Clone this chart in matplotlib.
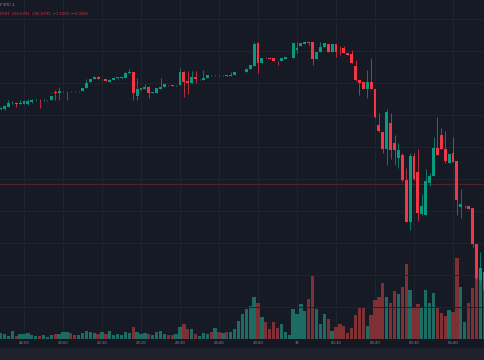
import matplotlib
matplotlib.use("Agg")
import matplotlib.pyplot as plt
from matplotlib.patches import Rectangle
import numpy as np

# 1-minute candles, 22:44 -> 00:48
opens = [66.39, 66.39, 66.51, 66.76, 66.76, 66.73, 66.70, 66.70, 66.83, 66.95,
         66.95, 66.92, 66.92, 66.95, 67.45, 67.39, 67.51, 67.51, 67.51, 67.51,
         67.49, 67.51, 67.70, 68.08, 68.26, 68.39, 68.26, 68.26, 68.08, 68.23,
         68.33, 68.33, 68.33, 68.64, 68.70, 67.20, 67.58, 67.64, 67.76, 67.39,
         67.39, 67.64, 67.76, 67.89, 67.86, 67.86, 67.89, 68.70, 68.14, 68.01,
         68.39, 68.26, 68.20, 68.33, 68.51, 68.49, 68.51, 68.49, 68.51, 68.48,
         68.51, 68.70, 68.67, 68.70, 68.89, 69.08, 70.51, 69.26, 69.58, 69.58,
         69.58, 69.39, 69.39, 69.51, 69.63, 69.58, 70.08, 70.33, 70.45, 70.58,
         70.58, 69.51, 69.95, 70.26, 70.45, 69.95, 70.45, 70.20, 70.20, 69.89,
         69.83, 69.08, 68.20, 68.08, 67.64, 68.08, 67.64, 65.39, 64.95, 63.89,
         65.51, 64.26, 63.33, 63.51, 61.95, 59.33, 63.45, 62.45, 59.83, 59.76,
         61.76, 62.20, 63.95, 64.76, 63.89, 63.01, 63.64, 63.14, 60.26, 60.26,
         60.33, 60.20, 57.95, 55.70, 56.20]
highs = [66.51, 66.64, 66.95, 66.89, 66.83, 66.95, 66.95, 67.01, 67.01, 67.01,
         67.01, 67.01, 66.98, 67.23, 67.58, 67.76, 67.54, 67.54, 67.54, 67.54,
         67.54, 67.70, 68.26, 68.29, 68.42, 68.45, 68.29, 68.29, 68.26, 68.36,
         68.36, 68.36, 68.67, 68.89, 68.70, 68.33, 67.70, 67.95, 67.83, 67.45,
         67.73, 68.33, 67.95, 67.89, 67.89, 67.89, 68.95, 68.76, 68.76, 68.76,
         68.76, 68.29, 68.83, 68.51, 68.53, 68.53, 68.53, 68.53, 68.53, 68.70,
         68.70, 68.73, 68.73, 68.89, 69.14, 70.58, 70.58, 69.58, 69.61, 69.61,
         69.58, 69.39, 69.58, 69.64, 69.66, 70.51, 70.58, 70.51, 70.61, 70.58,
         70.58, 69.95, 70.58, 70.54, 70.45, 70.45, 70.45, 70.33, 70.33, 69.89,
         70.08, 69.45, 68.20, 68.08, 68.83, 69.58, 67.64, 66.14, 64.95, 66.39,
         66.14, 64.76, 64.26, 63.64, 62.70, 63.64, 63.64, 63.89, 61.08, 62.64,
         62.39, 64.64, 65.89, 65.20, 65.01, 63.58, 64.64, 63.14, 61.39, 60.39,
         60.33, 60.20, 57.95, 57.45, 56.33]
lows = [66.33, 66.33, 66.51, 66.70, 66.51, 66.70, 66.70, 66.64, 66.76, 66.89,
        66.45, 66.89, 66.89, 66.95, 66.95, 66.95, 67.48, 66.95, 67.48, 67.48,
        67.48, 67.51, 67.70, 68.08, 68.26, 68.26, 68.23, 68.11, 68.08, 68.23,
        68.29, 68.29, 68.33, 68.64, 66.95, 66.95, 67.58, 67.64, 67.08, 67.39,
        67.39, 67.64, 67.76, 67.83, 67.83, 67.83, 67.89, 67.14, 67.33, 68.01,
        68.01, 68.23, 68.20, 68.33, 68.47, 68.47, 68.47, 68.47, 68.46, 68.46,
        68.51, 68.68, 68.67, 68.70, 68.89, 69.08, 68.64, 69.26, 69.56, 69.51,
        69.39, 69.14, 69.39, 69.51, 69.62, 69.58, 69.89, 70.33, 70.45, 70.39,
        69.14, 69.51, 69.95, 70.26, 69.95, 69.95, 69.64, 69.76, 69.89, 69.76,
        69.26, 68.14, 67.26, 67.64, 67.08, 67.64, 65.83, 64.95, 63.64, 62.89,
        63.26, 62.89, 62.70, 61.83, 59.33, 58.83, 61.95, 59.39, 59.76, 59.76,
        61.58, 62.20, 63.51, 63.89, 63.01, 63.01, 63.08, 59.76, 59.58, 60.20,
        60.14, 57.76, 55.70, 55.58, 54.95]
closes = [66.45, 66.58, 66.76, 66.76, 66.73, 66.76, 66.89, 66.89, 66.95, 66.95,
          66.92, 66.95, 66.95, 67.20, 67.36, 67.51, 67.51, 67.51, 67.49, 67.49,
          67.51, 67.70, 68.01, 68.26, 68.39, 68.26, 68.26, 68.14, 68.23, 68.33,
          68.33, 68.33, 68.64, 68.70, 67.39, 67.64, 67.70, 67.76, 67.39, 67.45,
          67.70, 67.76, 67.95, 67.86, 67.83, 67.89, 68.70, 68.08, 68.01, 68.39,
          68.26, 68.26, 68.33, 68.51, 68.49, 68.51, 68.49, 68.51, 68.48, 68.51,
          68.70, 68.71, 68.70, 68.89, 69.14, 70.45, 69.26, 69.58, 69.56, 69.51,
          69.39, 69.36, 69.58, 69.64, 69.65, 70.51, 70.20, 70.51, 70.58, 70.51,
          69.51, 69.95, 70.26, 70.51, 69.95, 70.45, 69.95, 70.17, 69.89, 69.76,
          69.26, 68.20, 68.01, 67.64, 68.08, 67.64, 65.89, 65.01, 63.89, 66.20,
          63.83, 63.83, 63.83, 61.95, 59.33, 63.45, 62.01, 59.89, 60.33, 61.89,
          62.20, 63.95, 63.51, 63.89, 63.14, 63.58, 63.08, 60.70, 60.45, 60.29,
          60.14, 57.95, 55.83, 56.45, 55.08]
volumes = [60, 50, 30, 80, 30, 50, 50, 60, 40, 30, 30, 40, 20, 40, 50, 50, 70, 70, 60, 40,
           40, 60, 80, 70, 60, 50, 70, 50, 80, 40, 50, 40, 70, 60, 120, 70, 50, 60, 50, 40,
           70, 80, 50, 40, 40, 50, 120, 150, 100, 100, 50, 30, 60, 50, 70, 110, 70, 60, 70, 70,
           100, 180, 250, 300, 330, 420, 360, 220, 170, 100, 170, 110, 150, 70, 40, 300, 250, 350, 280, 400,
           630, 300, 150, 250, 200, 80, 120, 150, 130, 60, 110, 240, 310, 310, 130, 240, 390, 420, 560, 420,
           360, 480, 450, 520, 750, 490, 320, 350, 320, 490, 360, 460, 320, 260, 230, 290, 270, 810, 520, 170,
           360, 510, 610, 690, 660]

tick_pos = [6, 16, 26, 36, 46, 56, 66, 76, 86, 96, 106, 116]
tick_labels = ["22:50", "23:00", "23:10", "23:20", "23:30", "23:40", "23:50",
               "30", "00:10", "00:20", "00:30", "00:40"]
price_line = 61.7

BG = "#161a25"
UP, DOWN = "#089981", "#f23645"
UP_VOL, DOWN_VOL = "#1d6c64", "#7e3035"

o = np.array(opens); h = np.array(highs); l = np.array(lows); c = np.array(closes)
v = np.array(volumes)
x = np.arange(len(o))
up = c >= o
col = np.where(up, UP, DOWN)
vcol = np.where(up, UP_VOL, DOWN_VOL)

fig = plt.figure(figsize=(4.85, 3.6), dpi=100, facecolor="#141822")
fig.patches.append(Rectangle((0, 0), 1, 12 / 360, transform=fig.transFigure,
                             facecolor="#1e222d", edgecolor="none", zorder=0))
rect = [0, 21 / 360, 1, 339 / 360]

# volume underneath
axv = fig.add_axes(rect, zorder=1)
axv.set_facecolor(BG)
axv.bar(x, v, width=0.86, color=vcol, linewidth=0)
axv.set_ylim(0, 3390)
axv.set_xlim(-0.154, 124.2)
axv.set_yticks([])
axv.set_xticks(tick_pos)
axv.set_xticklabels(tick_labels)
axv.tick_params(axis="x", length=0, pad=1.6, labelsize=2.7, labelcolor="#8a8e99")
axv.grid(axis="x", color="#1f2430", lw=0.7)
axv.set_axisbelow(True)
for s in axv.spines.values():
    s.set_visible(False)

# price on top
ax = fig.add_axes(rect, zorder=2)
ax.patch.set_visible(False)
ax.vlines(x, l, h, colors=col, lw=0.7, alpha=0.75)
body = np.maximum(np.abs(c - o), 0.03)
ax.bar(x, body, bottom=np.minimum(o, c), width=0.74, color=col, linewidth=0)
ax.axhline(price_line, color="#4e212b", lw=0.8, zorder=0)
ax.set_xlim(-0.154, 124.2)
ax.set_ylim(52.01, 73.2)
ax.set_yticks(np.arange(54, 74, 2))
ax.grid(axis="y", color="#1f2430", lw=0.7)
ax.set_axisbelow(True)
ax.set_xticks([])
ax.tick_params(axis="y", length=0, labelleft=False)
for s in ax.spines.values():
    s.set_visible(False)

fig.text(0.0, 1 - 5 / 360, "F BTC-1", fontsize=2.7, color="#9598a1", va="center")
fig.text(0.0, 1 - 14 / 360, "5591  L55.6791  C55.6791  \u22121.1505 (\u22122.04%)",
         fontsize=2.7, color="#d23a47", va="center")

fig.savefig("out.png", dpi=100, facecolor=fig.get_facecolor())
